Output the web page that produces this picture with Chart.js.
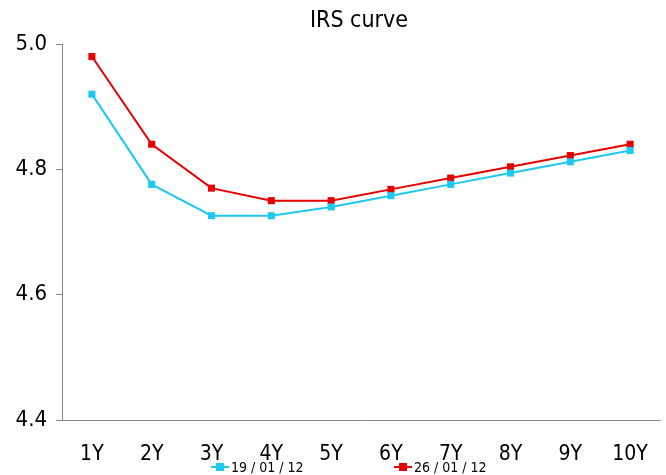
<!DOCTYPE html>
<html>
<head>
<meta charset="utf-8">
<script src="https://cdn.jsdelivr.net/npm/chart.js@4"></script>
<style>
  html, body { margin: 0; padding: 0; background: #fff; }
  #wrap { width: 666px; height: 475px; }
</style>
</head>
<body>
<div id="wrap"><canvas id="irsChart"></canvas></div>
<script>
const tenors = ['1Y', '2Y', '3Y', '4Y', '5Y', '6Y', '7Y', '8Y', '9Y', '10Y']
const rates190112 = [4.92, 4.776, 4.726, 4.726, 4.74, 4.758, 4.776, 4.794, 4.812, 4.83]
const rates260112 = [4.98, 4.84, 4.77, 4.75, 4.75, 4.768, 4.786, 4.804, 4.822, 4.84]
const yTicks = [4.4, 4.6, 4.8, 5.0]

const fontFamily = '"DejaVu Sans Condensed", "DejaVu Sans", sans-serif'
const cyan = '#1EC8F0'
const red = '#E60000'

// title + legend drawn relative to the plot area, like the original
const titleAndLegend = {
    id: 'titleAndLegend',
    afterDraw(chart) {
        const c = chart.ctx
        const area = chart.chartArea
        c.save()
        c.fillStyle = '#000'
        c.font = '23px ' + fontFamily
        c.textAlign = 'center'
        c.textBaseline = 'middle'
        c.fillText('IRS curve', (area.left + area.right) / 2 - 2, 21)

        c.font = '14px ' + fontFamily
        c.textAlign = 'left'
        const items = [
            { x: 211, label: '19 / 01 / 12', color: cyan },
            { x: 394, label: '26 / 01 / 12', color: red }
        ]
        const y = 467
        items.forEach(it => {
            c.strokeStyle = it.color
            c.lineWidth = 2
            c.beginPath()
            c.moveTo(it.x, y)
            c.lineTo(it.x + 18, y)
            c.stroke()
            c.fillStyle = it.color
            c.fillRect(it.x + 5, y - 4, 8, 8)
            c.fillStyle = '#000'
            c.fillText(it.label, it.x + 20, y + 1)
        })
        c.restore()
    }
}

window.addEventListener('load', () => {
    var ctx = document.getElementById('irsChart')

    const ds1 = {
        label: '19 / 01 / 12',
        data: rates190112,
        borderColor: cyan,
        backgroundColor: cyan,
        borderWidth: 2,
        pointStyle: 'rect',
        pointRadius: 5,
        pointBorderWidth: 0,
        tension: 0
    }

    const ds2 = {
        label: '26 / 01 / 12',
        data: rates260112,
        borderColor: red,
        backgroundColor: red,
        borderWidth: 2,
        pointStyle: 'rect',
        pointRadius: 5,
        pointBorderWidth: 0,
        tension: 0
    }

    new Chart(ctx, {
        type: 'line',
        data: {
            labels: tenors,
            datasets: [ds1, ds2]
        },
        plugins: [titleAndLegend],
        options: {
            responsive: true,
            maintainAspectRatio: false,
            animation: false,
            layout: {
                padding: { top: 44, right: 0, left: 0, bottom: 0 }
            },
            plugins: {
                legend: { display: false },
                title: { display: false },
                tooltip: { enabled: false }
            },
            scales: {
                x: {
                    offset: true,
                    afterFit: (s) => { s.height = 55; s.paddingRight = 6 },
                    grid: {
                        display: true,
                        drawOnChartArea: false,
                        drawTicks: false,
                        color: '#888'
                    },
                    border: { color: '#888', width: 1 },
                    ticks: {
                        color: '#000',
                        padding: 22,
                        maxRotation: 0,
                        font: { family: fontFamily, size: 21 }
                    }
                },
                y: {
                    min: 4.4,
                    max: 5.0,
                    afterFit: (s) => { s.width = 62 },
                    afterBuildTicks: (s) => { s.ticks = yTicks.map(v => ({ value: v })) },
                    grid: {
                        display: true,
                        drawOnChartArea: false,
                        drawTicks: true,
                        tickLength: 6,
                        color: '#888'
                    },
                    border: { color: '#888', width: 1 },
                    ticks: {
                        color: '#000',
                        padding: 9,
                        callback: (v) => Number(v).toFixed(1),
                        font: { family: fontFamily, size: 22 }
                    }
                }
            }
        }
    })
})
</script>
</body>
</html>
